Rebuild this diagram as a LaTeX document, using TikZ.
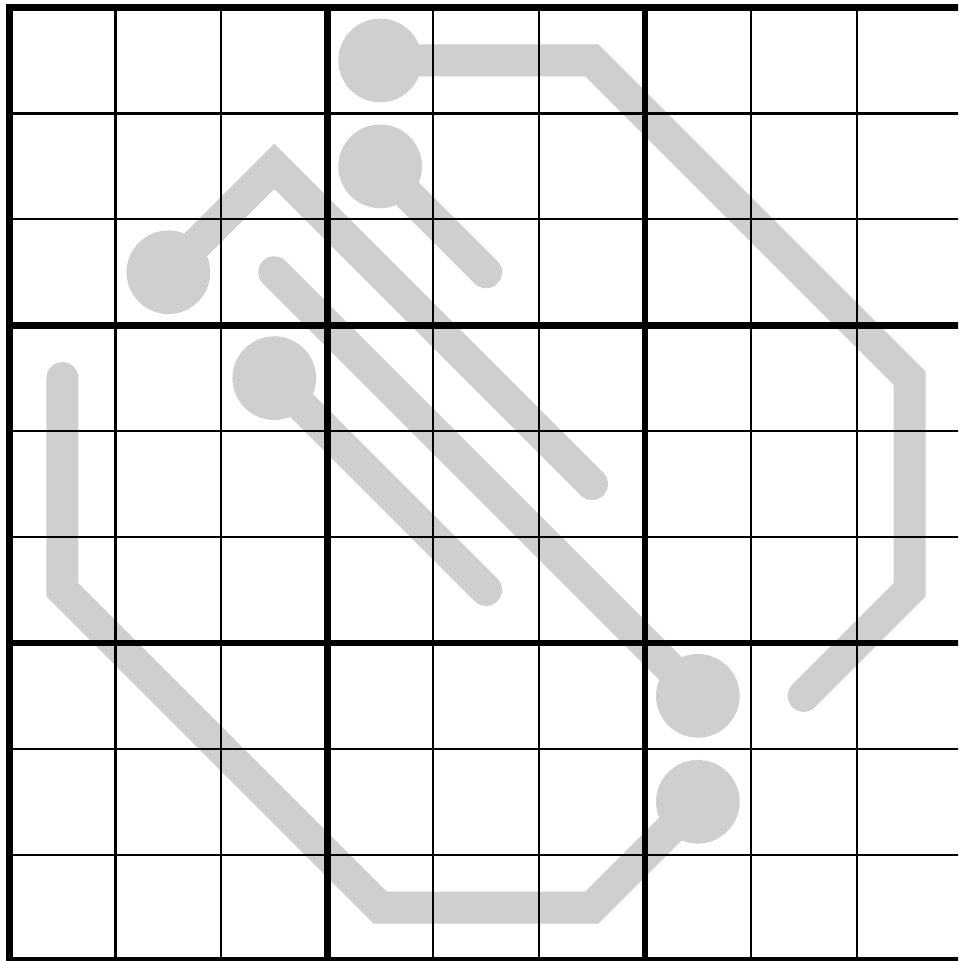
\documentclass[tikz,border=0pt]{standalone}
\usepackage{tikz}
\usetikzlibrary{positioning,calc}
\definecolor{therm}{HTML}{CFCFCF}
\tikzset{
  thermo/.style={line width=8.6pt, therm, line cap=round, line join=miter},
  bulb/.style={circle, fill=therm, inner sep=0pt, minimum size=0.79cm},
  thin/.style={line width=0.6pt, black},
  box/.style={line width=1.8pt, black},
}

\begin{document}
\begin{tikzpicture}
 \useasboundingbox (-0.09,0.071) rectangle (8.957,-9.004);
 \clip (-0.09,0.071) rectangle (8.957,-9.004);
 % cell centres, c<col><row>
 \foreach \c in {0,...,8}
  \foreach \r in {0,...,8}
   \coordinate (c\c\r) at (\c+0.5,-\r-0.5);
 % thermometers
 \node[bulb] (b1) at (c30) {};
 \draw[thermo] (b1.center) -- (c50) -- (c83) -- (c85) -- (c76);
 \node[bulb] (b2) at (c31) {};
 \draw[thermo] (b2.center) -- (c42);
 \node[bulb] (b3) at (c12) {};
 \draw[thermo] (b3.center) -- (c21) -- (c54);
 \node[bulb] (b4) at (c66) {};
 \draw[thermo] (b4.center) -- (c22);
 \node[bulb] (b5) at (c23) {};
 \draw[thermo] (b5.center) -- (c45);
 \node[bulb] (b6) at (c67) {};
 \draw[thermo] (b6.center) -- (c58) -- (c38) -- (c05) -- (c03);
 % grid
 \foreach \i in {1,2,4,5,7,8} {
  \draw[thin] (\i,0) -- (\i,-9);
  \draw[thin] (0,-\i) -- (9,-\i);
 }
 \foreach \i in {3,6} {
  \draw[box] (\i,0) -- (\i,-9);
  \draw[box] (0,-\i) -- (9,-\i);
 }
 \draw[box] (0,0) rectangle (9,-9);
\end{tikzpicture}
\end{document}
